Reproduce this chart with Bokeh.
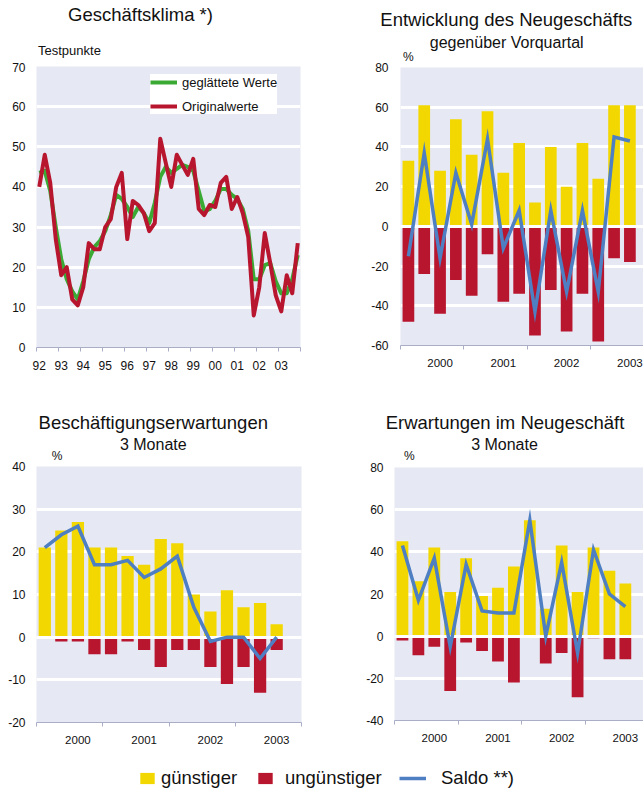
from bokeh.plotting import figure
from bokeh.layouts import column, row
from bokeh.models import FixedTicker, Legend, LegendItem, Range1d, Div
from bokeh.embed import file_html
from bokeh.resources import INLINE

FONT = "Liberation Sans"
BG = "#E6E8F4"
YEL = "#F2D800"
RED = "#B8162F"
BLUE = "#4E7FC2"
GREEN = "#3AAA35"
AXC = "#A9AEC6"
TXT = "#111111"

# ---------------- data ----------------
# Chart 1: Geschäftsklima (quarterly 1992-2003)
klima_years = list(range(1992, 2004))
klima_tick_labels = ["92", "93", "94", "95", "96", "97", "98", "99", "00", "01", "02", "03"]
klima_quarters = [f"{y}Q{q}" for y in klima_years for q in (1, 2, 3, 4)]
klima_smoothed = [43.5, 44, 39, 30, 22, 17, 14, 12, 16.5, 22, 25, 26.5,
                  29, 33, 38, 37, 35, 32.5, 35, 33.5, 31, 36, 42.5, 45,
                  43.5, 44.5, 45.5, 45, 44, 39, 34, 34.5, 36.5, 39.5, 39.5, 38,
                  37, 34.5, 29, 17, 17, 20.5, 21, 16.5, 13.5, 13.5, 17, 23]
klima_original = [40, 48, 41, 27, 18, 20, 12, 10.5, 15, 26, 24.5, 24.5,
                  30, 32, 40, 43.5, 27, 36.5, 35.5, 33.5, 29, 31, 52, 46,
                  40, 48, 45.5, 43, 47, 34.5, 33, 35.5, 35, 41, 42.5, 34.5,
                  37.5, 33.5, 27.5, 8, 15, 28.5, 21, 13, 9, 18, 13.5, 26]
klima_yticks = [0, 10, 20, 30, 40, 50, 60, 70]

# Bar charts: quarters 2000Q1 - 2003Q3
bar_years = [2000, 2001, 2002, 2003]
bar_year_labels = ["2000", "2001", "2002", "2003"]
bar_quarters = [f"{y}Q{q}" for y in bar_years for q in (1, 2, 3, 4)][:15]

neu_guenstig = [33, 61, 28, 54, 36, 58, 27, 42, 12, 40, 20, 42, 24, 61, 61]
neu_unguenstig = [-48, -24, -44, -27, -35, -14, -38, -34, -55, -32, -53, -34, -58, -16, -18]
neu_saldo = [-15, 37, -16, 27, 1, 44, -11, 8, -43, 8, -33, 8, -33, 45, 43]
neu_yticks = [-60, -40, -20, 0, 20, 40, 60, 80]

besch_guenstig = [21, 25, 27, 21, 21, 19, 17, 23, 22, 10, 6, 11, 7, 8, 3]
besch_unguenstig = [0, -1, -1, -4, -4, -1, -3, -7, -3, -3, -7, -11, -7, -13, -3]
besch_saldo = [21, 24, 26, 17, 17, 18, 14, 16, 19, 7, -1, 0, 0, -5, 0]
besch_yticks = [-20, -10, 0, 10, 20, 30, 40]

erw_guenstig = [45, 26, 42, 21, 37, 19, 23, 33, 55, 13, 43, 21, 42, 31, 25]
erw_unguenstig = [-2, -9, -5, -26, -3, -7, -12, -22, 0, -13, -8, -29, -1, -11, -11]
erw_saldo = [43, 17, 37, -5, 34, 12, 11, 11, 55, 0, 35, -8, 41, 20, 14]
erw_yticks = [-40, -20, 0, 20, 40, 60, 80]

legend_labels = ["günstiger", "ungünstiger", "Saldo **)"]


def q_pos(label):
    y, q = label.split("Q")
    return int(y) + (int(q) - 0.5) / 4


def base_fig(w, h, left, right, top, bottom, xr, yr):
    p = figure(width=w, height=h, x_range=Range1d(*xr), y_range=Range1d(*yr),
               output_backend="svg", toolbar_location=None,
               min_border_left=left, min_border_right=right,
               min_border_top=top, min_border_bottom=bottom,
               background_fill_color=BG, border_fill_color="white",
               outline_line_color=None)
    return p


def text_div(w, h, items):
    """items: (text, x, baseline_y, font_px, align) in pixels of this strip"""
    spans = []
    for text, x, base, size, align in items:
        top = base - 0.8465 * size
        shift = "transform:translateX(-50%);" if align == "center" else ""
        spans.append(
            f'<span style="position:absolute;left:{x}px;top:{top:.1f}px;'
            f'font-size:{size}px;line-height:1;white-space:nowrap;{shift}">{text}</span>')
    html = (f'<div style="position:relative;width:{w}px;height:{h}px;margin:0;padding:0;'
            f"font-family:'{FONT}';color:{TXT};\">" + "".join(spans) + "</div>")
    return Div(text=html, width=w, height=h, margin=0)


def style_y(p, ticks, standoff=11):
    p.yaxis.ticker = FixedTicker(ticks=ticks)
    p.yaxis.major_label_overrides = {t: str(t) for t in ticks}
    p.yaxis.axis_line_color = None
    p.yaxis.major_tick_out = 0
    p.yaxis.major_tick_in = 0
    p.yaxis.minor_tick_out = 0
    p.yaxis.minor_tick_in = 0
    p.yaxis.major_label_standoff = standoff
    p.yaxis.major_label_text_font = FONT
    p.yaxis.major_label_text_font_size = "12px"
    p.yaxis.major_label_text_color = TXT
    p.ygrid.ticker = FixedTicker(ticks=ticks)
    p.ygrid.grid_line_color = "white"
    p.ygrid.grid_line_width = 3
    p.xgrid.visible = False


def style_x(p, label_pos, labels, bounds, fs, standoff=9):
    p.xaxis.ticker = FixedTicker(ticks=label_pos, minor_ticks=bounds)
    p.xaxis.major_label_overrides = dict(zip(label_pos, labels))
    p.xaxis.axis_line_color = AXC
    p.xaxis.major_tick_out = 0
    p.xaxis.major_tick_in = 0
    p.xaxis.minor_tick_out = 4
    p.xaxis.minor_tick_in = 0
    p.xaxis.minor_tick_line_color = AXC
    p.xaxis.major_label_standoff = standoff
    p.xaxis.major_label_text_font = FONT
    p.xaxis.major_label_text_font_size = fs
    p.xaxis.major_label_text_color = TXT


def bar_chart(p, g, u, s, years, labels):
    xs = [q_pos(q) for q in bar_quarters]
    p.vbar(x=xs, top=g, bottom=0, width=0.185, fill_color=YEL, line_color=None)
    p.vbar(x=xs, top=0, bottom=u, width=0.185, fill_color=RED, line_color=None)
    p.hspan(y=[0], line_color="white", line_width=3)
    p.line(xs, s, line_color=BLUE, line_width=3.5, line_join="miter")
    style_x(p, [y + 0.625 for y in years], labels,
            [float(y) for y in years] + [years[-1] + 1.0], "11.5px")


# ---------------- chart 1 ----------------
d1 = text_div(320, 62, [("Geschäftsklima *)", 140.5, 22, 18.5, "center"),
                        ("Testpunkte", 38, 55, 13, "left")])
p1 = base_fig(320, 333, 36, 20, 4, 48, (1992, 2004), (0, 70))
kx = [q_pos(q) for q in klima_quarters]
r_g = p1.line(kx, klima_smoothed, line_color=GREEN, line_width=4, line_join="round")
r_r = p1.line(kx, klima_original, line_color=RED, line_width=4, line_join="round")
style_y(p1, klima_yticks)
style_x(p1, [y + 0.125 for y in klima_years], klima_tick_labels,
        [float(y) for y in klima_years] + [2004.0], "12px")
leg1 = Legend(items=[LegendItem(label="geglättete Werte", renderers=[r_g]),
                     LegendItem(label="Originalwerte", renderers=[r_r])],
              location=(114, 233), padding=6, spacing=8, glyph_width=27,
              glyph_height=16, label_height=16, label_standoff=5, margin=0,
              label_text_font=FONT, label_text_font_size="13px", label_text_color=TXT,
              border_line_color=None, background_fill_color="white", background_fill_alpha=1)
p1.add_layout(leg1)

# ---------------- chart 2 ----------------
d2 = text_div(323, 62, [("Entwicklung des Neugeschäfts", 186.3, 26.5, 18.5, "center"),
                        ("gegenüber Vorquartal", 186.7, 48, 16, "center"),
                        ("%", 83, 61, 12, "left")])
p2 = base_fig(323, 333, 80, 0, 5, 50, (2000, 2003.84), (-60, 80))
bar_chart(p2, neu_guenstig, neu_unguenstig, neu_saldo, bar_years, bar_year_labels)
style_y(p2, neu_yticks, 12)

# ---------------- chart 3 ----------------
d3 = text_div(320, 66, [("Beschäftigungserwartungen", 153.3, 35, 18.5, "center"),
                        ("3 Monate", 153.3, 55, 16, "center"),
                        ("%", 51.7, 65, 12, "left")])
p3 = base_fig(320, 289, 36, 19, 5, 28, (2000, 2004), (-20, 40))
bar_chart(p3, besch_guenstig, besch_unguenstig, besch_saldo, bar_years, bar_year_labels)
style_y(p3, besch_yticks)

# ---------------- chart 4 ----------------
d4 = text_div(323, 66, [("Erwartungen im Neugeschäft", 185, 34.3, 18.5, "center"),
                        ("3 Monate", 184.5, 55, 16, "center"),
                        ("%", 84, 65, 12, "left")])
p4 = base_fig(323, 289, 74, 0, 6, 30, (2000, 2003.91), (-40, 80))
bar_chart(p4, erw_guenstig, erw_unguenstig, erw_saldo, bar_years, bar_year_labels)
style_y(p4, erw_yticks)

# ---------------- legend ----------------
pl = figure(width=643, height=39, x_range=Range1d(0, 1), y_range=Range1d(0, 1),
            output_backend="svg", toolbar_location=None, min_border=0,
            x_axis_location=None, y_axis_location=None, outline_line_color=None,
            background_fill_color="white", border_fill_color="white")
pl.grid.visible = False
# swatch renderers (their data lie outside this strip's visible range)
lx = [q_pos(q) for q in bar_quarters]
lg = pl.vbar(x=lx, top=besch_guenstig, width=0.185, fill_color=YEL, line_color=None)
lu = pl.vbar(x=lx, top=0, bottom=besch_unguenstig, width=0.185, fill_color=RED, line_color=None)
ls = pl.line(lx, besch_saldo, line_color=BLUE, line_width=3.5)
legend_specs = [(legend_labels[0], lg, 138, 18, 5), (legend_labels[1], lu, 256, 18, 11),
                (legend_labels[2], ls, 399, 27, 15)]
for lab, rend, x0, gw, st in legend_specs:
    pl.add_layout(Legend(items=[LegendItem(label=lab, renderers=[rend])],
                         location=(x0, 0), padding=0, margin=0, glyph_width=gw,
                         glyph_height=14, label_height=20, label_standoff=st,
                         label_text_font=FONT, label_text_font_size="18.5px",
                         label_text_color=TXT, border_line_color=None,
                         background_fill_alpha=0))

layout = column(row(column(d1, p1), column(d2, p2)),
                row(column(d3, p3), column(d4, p4)),
                pl)
open("out.html", "w").write(file_html(layout, INLINE))
